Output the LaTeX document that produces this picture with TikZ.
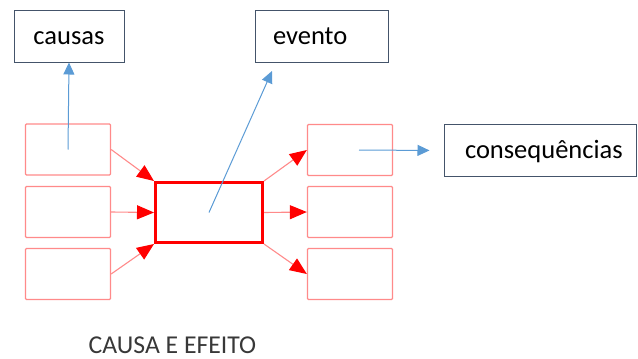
\documentclass[tikz,border=0pt]{standalone}
\usepackage{fontspec}
\setmainfont{Carlito}
\usepackage{xcolor}
\usetikzlibrary{arrows.meta}

\definecolor{boxline}{HTML}{44546A}
\definecolor{lightred}{HTML}{FF8A8A}
\definecolor{blueline}{HTML}{5B9BD5}
\definecolor{capgray}{HTML}{383838}

\tikzset{
  tagbox/.style={draw=boxline, line width=1pt, minimum height=52pt, inner sep=0pt,
    font=\fontsize{26.5}{30}\selectfont, text height=16pt, text depth=0pt},
  lefttext/.style={align=left, inner xsep=#1},
  smallbox/.style={draw=lightred, line width=1.3pt, rounded corners=1pt,
    minimum width=85pt, minimum height=51pt, inner sep=0pt},
  redarrow/.style={draw=lightred, line width=1.1pt, -{Triangle[length=17pt,width=14pt,color=red]}},
  bluearrow/.style={draw=blueline, line width=1pt, -{Triangle[length=12pt,width=11pt]}}
}

\begin{document}
\begin{tikzpicture}[x=1pt,y=-1pt]
  \useasboundingbox (0,0) rectangle (638,359);
  % caixas de texto
  \node[tagbox, minimum width=110pt] (causas) at (69,36) {causas};
  \node[tagbox, minimum width=133pt, text width=97pt, lefttext=18pt] (evento) at (321.5,36) {evento};
  \node[tagbox, minimum width=192pt, text width=150pt, lefttext=21pt, text height=15pt] (conseq) at (540,150.5) {consequências};
  % causas e consequencias
  \node[smallbox] (c1) at (68,149.5) {};
  \node[smallbox] (c2) at (68,212) {};
  \node[smallbox] (c3) at (68,274) {};
  \node[smallbox] (k1) at (350,150) {};
  \node[smallbox] (k2) at (350,212) {};
  \node[smallbox] (k3) at (350,274) {};
  % evento central
  \node[draw=red, line width=3pt, minimum width=107pt, minimum height=60pt, inner sep=0pt] (ev) at (209,212.5) {};
  \draw[redarrow] (c1.east) -- (ev.north west);
  \draw[redarrow] (c2.east) -- (ev.west);
  \draw[redarrow] (c3.east) -- (ev.south west);
  \draw[redarrow] (ev.north east) -- (k1.west);
  \draw[redarrow] (ev.east) -- (k2.west);
  \draw[redarrow] (ev.south east) -- (k3.west);
  % setas azuis
  \coordinate (evtip) at (272,71);
  \draw[bluearrow] (c1.center) -- (causas.south);
  \draw[bluearrow] (ev.center) -- (evtip);
  \draw[bluearrow, shorten <=9pt, shorten >=14pt] (k1.center) -- (conseq.west);
  \node[anchor=base, text=capgray, font=\fontsize{25.7}{30}\selectfont] (cap) at (172.5,353) {CAUSA E EFEITO};
\end{tikzpicture}
\end{document}
